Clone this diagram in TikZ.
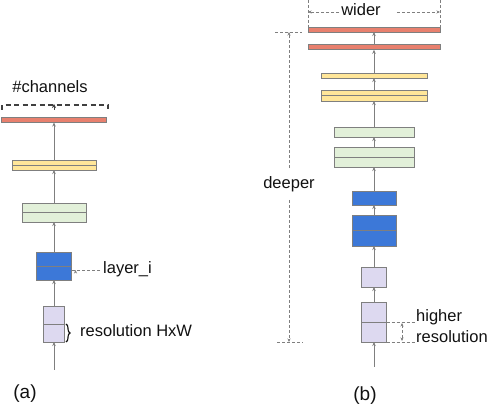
\documentclass[tikz,border=0pt]{standalone}
\usepackage{fontspec}
\setmainfont{Liberation Sans}
\usetikzlibrary{arrows.meta,decorations.pathreplacing}
\definecolor{cred}{HTML}{E8806E}
\definecolor{cyel}{HTML}{FFE699}
\definecolor{cgrn}{HTML}{E2F0D9}
\definecolor{cblu}{HTML}{3C78D8}
\definecolor{cpur}{HTML}{DDD9F0}
\definecolor{cline}{HTML}{7F7F7F}
\definecolor{ctxt}{HTML}{111111}
\tikzset{
  blk/.style={draw=cline, line width=0.9pt, inner sep=0pt, outer sep=0pt},
  flow/.style={draw=cline, line width=0.9pt, -{Stealth[length=4pt,width=3.5pt]}},
  plain/.style={draw=cline, line width=0.9pt},
  dimline/.style={draw=cline, line width=0.7pt, dash pattern=on 3pt off 2pt},
  dimarrow/.style={dimline, -{Stealth[length=3.5pt,width=3pt]}},
  lbl/.style={text=ctxt, font=\fontsize{16.5}{19}\selectfont, inner sep=0pt},
  biglbl/.style={text=ctxt, font=\fontsize{19}{22}\selectfont, inner sep=0pt},
}
\newcommand{\midline}[1]{\draw[plain] (#1.west) -- (#1.east);}
\begin{document}
\begin{tikzpicture}[x=1pt,y=-1pt]
\useasboundingbox (0,0) rectangle (491,406);
% ---------- panel (a) ----------
\node[blk, fill=cred, minimum width=105pt, minimum height=5pt] (ar) at (54,120) {};
\node[blk, fill=cyel, minimum width=84pt, minimum height=10pt] (ay) at (54,165) {};
\node[blk, fill=cgrn, minimum width=64pt, minimum height=19pt] (ag) at (54,212.5) {};
\node[blk, fill=cblu, minimum width=35pt, minimum height=28pt] (ab) at (54,266) {};
\node[blk, fill=cpur, minimum width=21pt, minimum height=36pt] (ap) at (54,324) {};
\midline{ay}\midline{ag}\midline{ab}\midline{ap}
\coordinate (ain) at (54,370);
\draw[flow] (ain) -- (ap.south);
\draw[flow] (ap.north) -- (ab.south);
\draw[flow] (ab.north) -- (ag.south);
\draw[flow] (ag.north) -- (ay.south);
\draw[flow] (ay.north) -- (ar.south);
% channels bracket
\coordinate (bl) at (2,110);
\coordinate (br) at (108,110);
\draw[draw=black!75, line width=1.1pt, dash pattern=on 5pt off 3.5pt] (bl) -- (2,105) -- (108,105) -- (br);
\coordinate (bt0) at (54,110);
\coordinate (bt1) at (54,104);
\draw[draw=black!75, line width=0.9pt, -{Stealth[length=4pt,width=4pt]}] (bt0) -- (bt1);
\node[lbl, anchor=base] (chan) at (50,93) {\#channels};
% layer_i
\node[lbl, anchor=west] (li) at (103,269) {layer\_i};
\draw[dimarrow] (li.west) ++(-3,1) coordinate (lis) -- (ab.east |- lis) ++ (4,0);
% resolution brace
\coordinate (r0) at (66,324);
\coordinate (r1) at (66,342);
\draw[draw=ctxt, line width=1.1pt, decorate, decoration={brace, amplitude=4pt}] (r0) -- (r1);
\node[lbl, anchor=west] (res) at (80,331) {resolution HxW};
\node[biglbl] (la) at (25,394) {(a)};
% ---------- panel (b) ----------
\node[blk, fill=cred, minimum width=132pt, minimum height=5pt] (br1) at (374,29.5) {};
\node[blk, fill=cred, minimum width=132pt, minimum height=5.5pt] (br2) at (374,47) {};
\node[blk, fill=cyel, minimum width=106pt, minimum height=5pt] (by1) at (374,75.5) {};
\node[blk, fill=cyel, minimum width=106pt, minimum height=11pt] (by2) at (374,95.5) {};
\node[blk, fill=cgrn, minimum width=80pt, minimum height=10pt] (bg1) at (374,132) {};
\node[blk, fill=cgrn, minimum width=80pt, minimum height=20pt] (bg2) at (374,157) {};
\node[blk, fill=cblu, minimum width=44pt, minimum height=14pt] (bb1) at (374,198) {};
\node[blk, fill=cblu, minimum width=44pt, minimum height=31pt] (bb2) at (374,230.5) {};
\node[blk, fill=cpur, minimum width=25pt, minimum height=20pt] (bp1) at (374,277) {};
\node[blk, fill=cpur, minimum width=25pt, minimum height=40pt] (bp2) at (374,322) {};
\midline{by2}\midline{bg2}\midline{bb2}\midline{bp2}
\coordinate (bin) at (374,367);
\draw[flow] (bin) -- (bp2.south);
\draw[flow] (bp2.north) -- (bp1.south);
\draw[flow] (bp1.north) -- (bb2.south);
\draw[flow] (bb2.north) -- (bb1.south);
\draw[flow] (bb1.north) -- (bg2.south);
\draw[flow] (bg2.north) -- (bg1.south);
\draw[flow] (bg1.north) -- (by2.south);
\draw[flow] (by2.north) -- (by1.south);
\draw[flow] (by1.north) -- (br2.south);
\draw[flow] (br2.north) -- (br1.south);
% wider
\coordinate (wl0) at (308,0);
\coordinate (wr0) at (440,0);
\draw[dimline] (wl0) -- (br1.north west);
\draw[dimline] (wr0) -- (br1.north east);
\node[lbl] (wider) at (361,10) {wider};
\coordinate (wl) at (308,12);
\coordinate (wr) at (440,12);
\draw[dimarrow] (wider.west |- wl) ++(-2,0) -- (wl);
\draw[dimarrow] (wider.east |- wr) ++(16,0) -- (wr);
% deeper
\node[lbl] (deep) at (289,184) {deeper};
\coordinate (dt) at (289,32);
\coordinate (db) at (289,342);
\coordinate (dtl) at (275,32);
\coordinate (dtr) at (302,32);
\coordinate (dbl) at (277,342);
\coordinate (dbr) at (303,342);
\draw[dimline] (dtl) -- (dtr);
\draw[dimline] (dbl) -- (dbr);
\draw[dimarrow] (deep.north) ++(0,-8) -- (dt);
\draw[dimarrow] (deep.south) ++(0,8) -- (db);
% higher resolution
\coordinate (h0) at (bp2.east);
\coordinate (h1) at (bp2.south east);
\coordinate (h0r) at (416,322);
\coordinate (h1r) at (416,342);
\draw[dimline] (h0) -- (h0r);
\draw[dimline] (h1) -- (h1r);
\coordinate (ha) at (402,323);
\coordinate (hb) at (402,341);
\draw[dimline, {Stealth[length=3.5pt,width=3pt]}-{Stealth[length=3.5pt,width=3pt]}] (ha) -- (hb);
\node[lbl, anchor=west] (hi) at (416,317) {higher};
\node[lbl, anchor=west] (hr) at (416,337) {resolution};
\node[biglbl] (lb) at (365,396) {(b)};
\end{tikzpicture}
\end{document}
